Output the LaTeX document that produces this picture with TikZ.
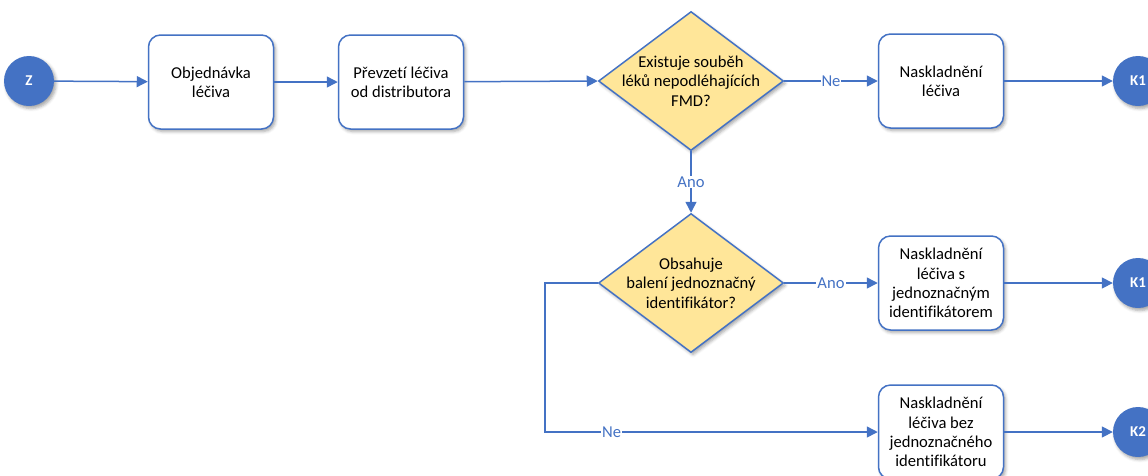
\documentclass[tikz,border=0pt]{standalone}
\usepackage{fontspec}
\setmainfont{Carlito}[RawFeature={-liga}]
\usetikzlibrary{shapes.geometric,arrows.meta,shadows.blur}
\definecolor{flowblue}{RGB}{68,114,196}
\definecolor{decfill}{RGB}{255,230,153}

\begin{document}
\begin{tikzpicture}[x=1pt,y=-1pt,
  every node/.style={font=\fontsize{16.6}{19.3}\selectfont},
  softshadow/.style={blur shadow={shadow xshift=2pt, shadow yshift=-2.5pt,
      shadow blur radius=3pt, shadow opacity=35}},
  flow/.style={draw=flowblue, line width=1.5pt, -{Triangle[length=11pt,width=11pt]}},
  task/.style={draw=flowblue, line width=1.5pt, fill=white, rounded corners=12pt,
      minimum width=125pt, minimum height=94pt, align=center, inner sep=2pt, softshadow},
  decision/.style={diamond, draw=flowblue, line width=1.5pt, fill=decfill,
      minimum width=185pt, minimum height=139pt, inner sep=0pt, softshadow},
  term/.style={circle, fill=flowblue, minimum size=50pt, inner sep=0pt, text=white,
      font=\bfseries\fontsize{15}{17}\selectfont, softshadow},
  edgelabel/.style={fill=white, text=flowblue, inner sep=1pt}
]
\useasboundingbox (0,0) rectangle (1148,475);

% first row
\node[term] (z) at (29,81) {Z};
\node[task] (order) at (211,82) {Objednávka\\léčiva};
\node[task] (receive) at (401,82) {Převzetí léčiva\\od distributora};
\node[decision] (q1) at (691,81) {};
\node[align=center] (q1text) at (q1) {Existuje souběh\\léků nepodléhajících\\FMD?};
\node[task] (store) at (941,81) {Naskladnění\\léčiva};
\node[term] (k1a) at (1138,81) {K1};

% second decision and its outcomes
\node[decision] (q2) at (691,283) {};
\node[align=center] (q2text) at (q2) {Obsahuje\\balení jednoznačný\\identifikátor?};
\node[task] (storeid) at (941,283) {Naskladnění\\léčiva s\\jednoznačným\\identifikátorem};
\node[term] (k1b) at (1138,283) {K1};
\node[task] (storenoid) at (941,432) {Naskladnění\\léčiva bez\\jednoznačného\\identifikátoru};
\node[term] (k2) at (1138,432) {K2};

\coordinate (bend1) at (545,283);
\coordinate (bend2) at (545,432);

% connectors
\draw[flow] (z) -- (order);
\draw[flow] (order) -- (receive);
\draw[flow] (receive) -- (q1.west);
\draw[flow] (q1.east) -- node[edgelabel, pos=0.5] (ne1) {Ne} (store);
\draw[flow] (store) -- (k1a);
\draw[flow] (q1.south) -- node[edgelabel, pos=0.5] (ano1) {Ano} (q2.north);
\draw[flow] (q2.east) -- node[edgelabel, pos=0.5] (ano2) {Ano} (storeid);
\draw[flow] (storeid) -- (k1b);
\draw[flow] (q2.west) -- (bend1) -- (bend2) -- node[edgelabel, pos=0.2] (ne2) {Ne} (storenoid);
\draw[flow] (storenoid) -- (k2);
\end{tikzpicture}
\end{document}
